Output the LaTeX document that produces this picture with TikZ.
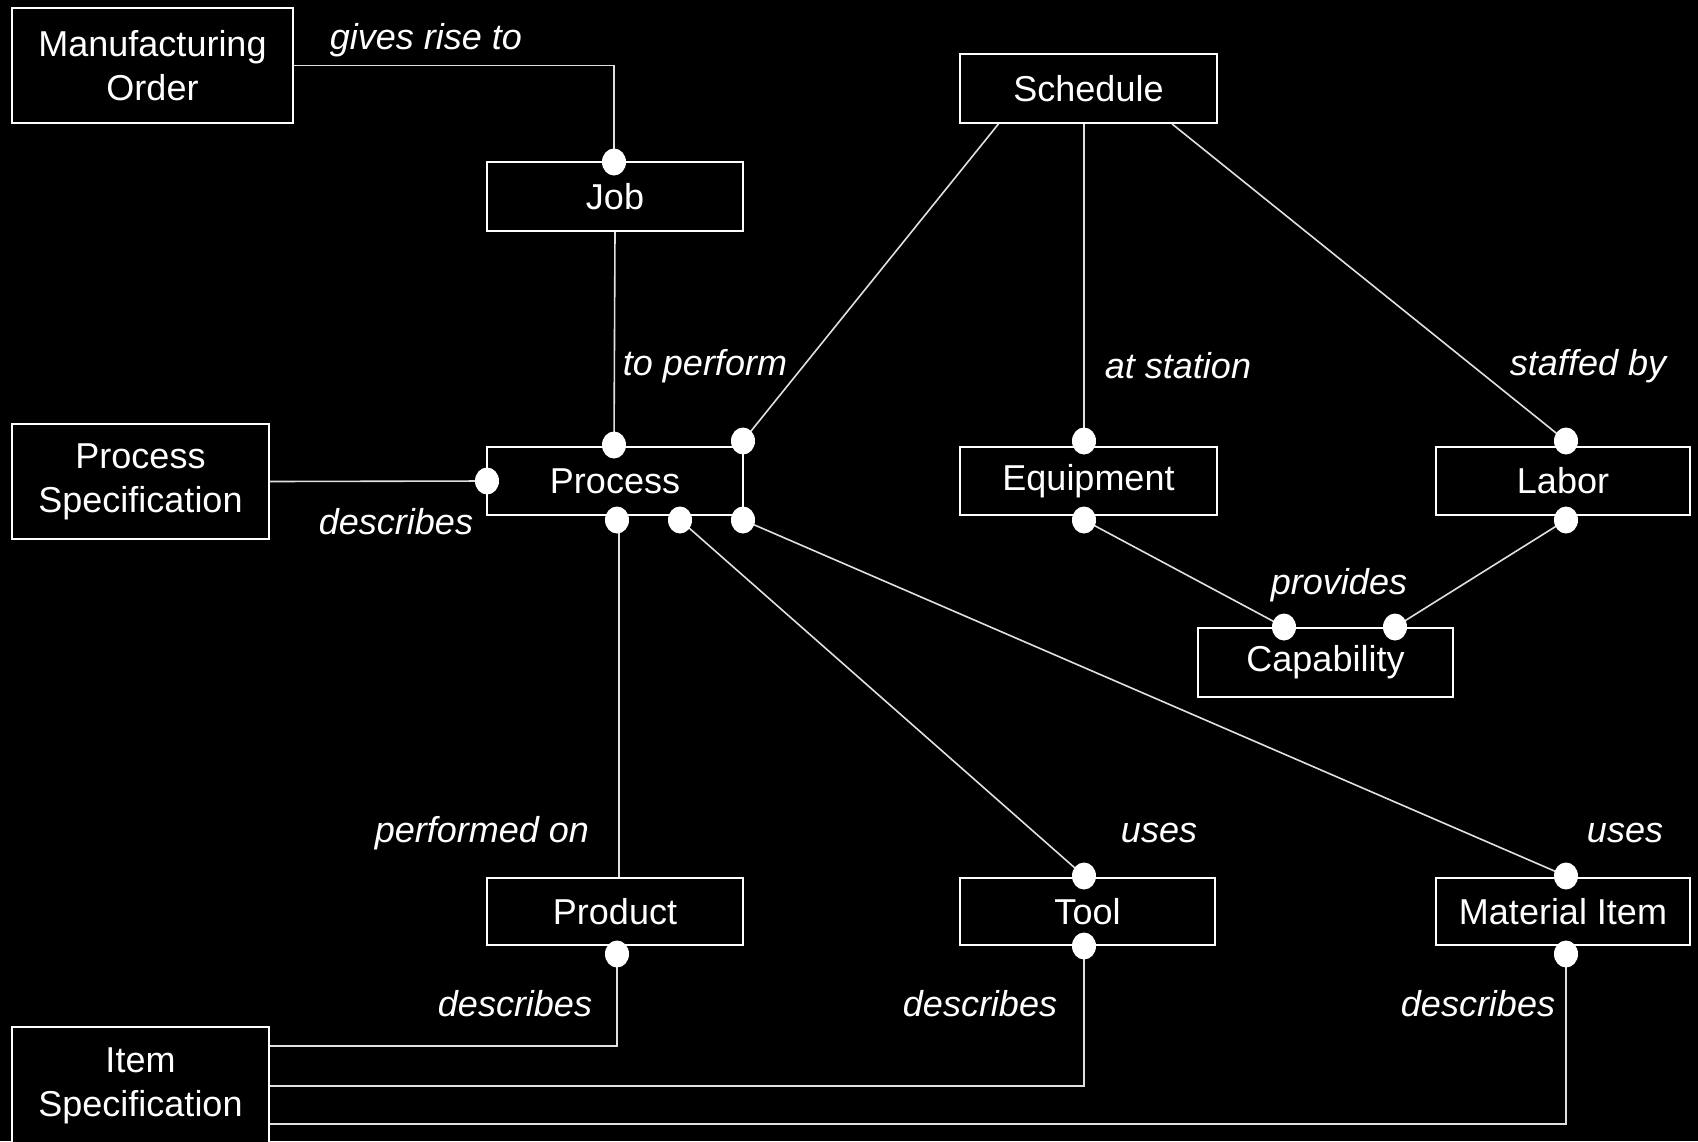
\documentclass[tikz,border=0pt]{standalone}
\usepackage{fontspec}
\setmainfont{Liberation Sans}
\usetikzlibrary{calc,shapes.geometric}
\begin{document}
\begin{tikzpicture}[x=1pt,y=-1pt,
  box/.style={draw=white,line width=1.8pt,fill=black,text=white,inner sep=0pt,align=center,
    font=\fontsize{36}{44}\selectfont},
  lbl/.style={text=white,inner sep=0pt,font=\fontsize{36}{44}\selectfont\itshape},
  conn/.style={draw=white!88!black,line width=1.6pt},
  dot/.style={ellipse,fill=white,inner sep=0pt,minimum width=24pt,minimum height=27pt}]
\fill[black] (0,0) rectangle (1698,1141);
\useasboundingbox (0,0) rectangle (1698,1141);
% boxes
\node[box,minimum width=281,minimum height=115] (mo) at (152.5,65.5) {Manufacturing\\Order};
\node[box,minimum width=256,minimum height=69] (job) at (615,196.5) {Job};
\node[box,minimum width=257,minimum height=69] (sch) at (1088.5,88.5) {Schedule};
\node[box,minimum width=257,minimum height=115] (ps) at (140.5,481.5) {Process\\Specification};
\node[box,minimum width=256,minimum height=68] (proc) at (615,481) {Process};
\node[box,minimum width=257,minimum height=68] (eq) at (1088.5,481) {Equipment};
\node[box,minimum width=254,minimum height=68] (lab) at (1563,481) {Labor};
\node[box,minimum width=255,minimum height=69] (cap) at (1325.5,662.5) {Capability};
\node[box,minimum width=256,minimum height=67] (prod) at (615,911.5) {Product};
\node[box,minimum width=255,minimum height=67] (tool) at (1087.5,911.5) {Tool};
\node[box,minimum width=254,minimum height=67] (mat) at (1563,911.5) {Material Item};
\node[box,minimum width=257,minimum height=118] (is) at (140.5,1086) {Item\\Specification};
% dot positions
\coordinate (djob) at (614,162);
\coordinate (dpt1) at (614,445);
\coordinate (dpt2) at (743,441);
\coordinate (dpl) at (487,481);
\coordinate (dpb1) at (617,520);
\coordinate (dpb2) at (680,520);
\coordinate (dpb3) at (743,520);
\coordinate (deqt) at (1084,441);
\coordinate (deqb) at (1084,520);
\coordinate (dlabt) at (1566,441);
\coordinate (dlabb) at (1566,520);
\coordinate (dcap1) at (1284,627);
\coordinate (dcap2) at (1395,627);
\coordinate (dtoolt) at (1084,876);
\coordinate (dtoolb) at (1084,946);
\coordinate (dmatt) at (1566,876);
\coordinate (dmatb) at (1566,954);
\coordinate (dprodb) at (617,954);
% connectors
\begin{scope}[conn]
\draw (mo.east) -| (djob);
\draw (job.south) -- (dpt1);
\draw ($(sch.south)+(-90,0)$) -- (dpt2);
\draw (sch.south -| deqt) -- (deqt);
\draw ($(sch.south)+(83.5,0)$) -- (dlabt);
\draw (ps.east) -- (dpl);
\draw ($(dpb1)+(2,0)$) -- ($(dpb1 |- prod.north)+(2,0)$);
\draw (dpb2) -- (dtoolt);
\draw (dpb3) -- (dmatt);
\draw (deqb) -- (dcap1);
\draw (dlabb) -- (dcap2);
\draw (dprodb) |- ($(is.north east)+(0,20)$);
\draw (dtoolb) |- ($(is.north east)+(0,60)$);
\draw (dmatb) |- ($(is.north east)+(0,98)$);
\end{scope}
% dots
\foreach \d in {djob,dpt1,dpt2,dpl,dpb1,dpb2,dpb3,deqt,deqb,dlabt,dlabb,dcap1,dcap2,dtoolt,dtoolb,dmatt,dmatb,dprodb}
  \node[dot] at (\d) {};
% labels
\node[lbl] (l1) at (426,40) {gives rise to};
\node[lbl] (l2) at (705,366) {to perform};
\node[lbl] (l3) at (1178,366) {at station};
\node[lbl] (l4) at (1588,366) {staffed by};
\node[lbl] (l5) at (396,522) {describes};
\node[lbl] (l6) at (1339,585) {provides};
\node[lbl] (l7) at (482,833) {performed on};
\node[lbl] (l8) at (1159,833) {uses};
\node[lbl] (l9) at (1625,833) {uses};
\node[lbl] (l10) at (515,1004) {describes};
\node[lbl] (l11) at (980,1004) {describes};
\node[lbl] (l12) at (1478,1004) {describes};
\end{tikzpicture}
\end{document}
